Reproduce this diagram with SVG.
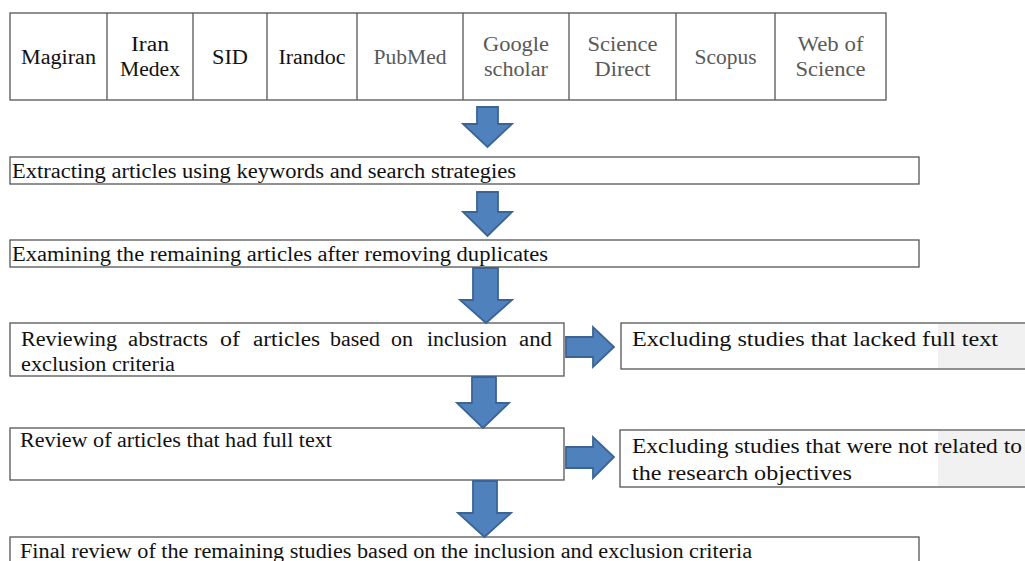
<svg xmlns="http://www.w3.org/2000/svg" width="1025" height="561" viewBox="0 0 1025 561">
<style>
  .box { fill: #ffffff; stroke: #555555; stroke-width: 1.3; }
  .t { font-size: 20px; fill: #111111; }
  .tb { font-size: 20px; fill: #111111; text-anchor: middle; }
  .g { fill: #595959; }
  .big { font-size: 22px; }
  .arr { fill: #4f81bd; stroke: #3b6494; stroke-width: 1.8; stroke-linejoin: miter; }
</style>
<rect width="1025" height="561" fill="#ffffff"/>

<g font-family="Liberation Serif, Times New Roman, DejaVu Serif, serif">
<g id="databases">
  <rect class="box" x="10" y="13" width="876" height="87"/>
  <g stroke="#555555" stroke-width="1.3">
    <line x1="107" y1="13" x2="107" y2="100"/>
    <line x1="193" y1="13" x2="193" y2="100"/>
    <line x1="267" y1="13" x2="267" y2="100"/>
    <line x1="357" y1="13" x2="357" y2="100"/>
    <line x1="463" y1="13" x2="463" y2="100"/>
    <line x1="569" y1="13" x2="569" y2="100"/>
    <line x1="676" y1="13" x2="676" y2="100"/>
    <line x1="775" y1="13" x2="775" y2="100"/>
  </g>
  <text class="tb" x="58.5" y="64" textLength="75" lengthAdjust="spacingAndGlyphs">Magiran</text>
  <text class="tb" x="150" y="51" textLength="38" lengthAdjust="spacingAndGlyphs">Iran</text>
  <text class="tb" x="150" y="76" textLength="60" lengthAdjust="spacingAndGlyphs">Medex</text>
  <text class="tb" x="230" y="64" textLength="36" lengthAdjust="spacingAndGlyphs">SID</text>
  <text class="tb" x="312" y="64" textLength="67" lengthAdjust="spacingAndGlyphs">Irandoc</text>
  <text class="tb g" x="410" y="64" textLength="73" lengthAdjust="spacingAndGlyphs">PubMed</text>
  <text class="tb g" x="516" y="51" textLength="66" lengthAdjust="spacingAndGlyphs">Google</text>
  <text class="tb g" x="516" y="76" textLength="64" lengthAdjust="spacingAndGlyphs">scholar</text>
  <text class="tb g" x="622.5" y="51" textLength="70" lengthAdjust="spacingAndGlyphs">Science</text>
  <text class="tb g" x="622.5" y="76" textLength="56" lengthAdjust="spacingAndGlyphs">Direct</text>
  <text class="tb g" x="725.5" y="64" textLength="62" lengthAdjust="spacingAndGlyphs">Scopus</text>
  <text class="tb g" x="830.5" y="51" textLength="66" lengthAdjust="spacingAndGlyphs">Web of</text>
  <text class="tb g" x="830.5" y="76" textLength="70" lengthAdjust="spacingAndGlyphs">Science</text>
</g>

<g id="extracting">
  <rect class="box" x="10" y="157" width="909" height="27"/>
  <text class="t" x="12" y="178" textLength="504" lengthAdjust="spacingAndGlyphs">Extracting articles using keywords and search strategies</text>
</g>

<g id="examining">
  <rect class="box" x="10" y="240" width="909" height="27"/>
  <text class="t" x="12" y="261" textLength="536" lengthAdjust="spacingAndGlyphs">Examining the remaining articles after removing duplicates</text>
</g>

<g id="reviewing-abstracts">
  <rect class="box" x="10" y="323" width="554" height="53"/>
  <text class="t" y="346">
    <tspan x="21" textLength="96" lengthAdjust="spacingAndGlyphs">Reviewing</tspan>
    <tspan x="128" textLength="80" lengthAdjust="spacingAndGlyphs">abstracts</tspan>
    <tspan x="220" textLength="20" lengthAdjust="spacingAndGlyphs">of</tspan>
    <tspan x="253" textLength="67" lengthAdjust="spacingAndGlyphs">articles</tspan>
    <tspan x="330" textLength="50" lengthAdjust="spacingAndGlyphs">based</tspan>
    <tspan x="391" textLength="22" lengthAdjust="spacingAndGlyphs">on</tspan>
    <tspan x="427" textLength="80" lengthAdjust="spacingAndGlyphs">inclusion</tspan>
    <tspan x="519" textLength="33" lengthAdjust="spacingAndGlyphs">and</tspan>
  </text>
  <text class="t" x="21" y="371" textLength="154" lengthAdjust="spacingAndGlyphs">exclusion criteria</text>
</g>

<g id="excluding-no-fulltext">
  <rect class="box" x="621" y="323" width="420" height="46"/>
  <rect x="938" y="324" width="87" height="44" fill="#f1f1f1"/>
  <text class="t big" x="632" y="346" textLength="366" lengthAdjust="spacingAndGlyphs">Excluding studies that lacked full text</text>
</g>

<g id="review-fulltext">
  <rect class="box" x="10" y="428" width="554" height="52"/>
  <text class="t" x="20" y="447" textLength="312" lengthAdjust="spacingAndGlyphs">Review of articles that had full text</text>
</g>

<g id="excluding-not-related">
  <rect class="box" x="620" y="430" width="420" height="57"/>
  <rect x="938" y="431" width="87" height="55" fill="#f1f1f1"/>
  <text class="t big" x="632" y="453" textLength="390" lengthAdjust="spacingAndGlyphs">Excluding studies that were not related to</text>
  <text class="t big" x="632" y="480" textLength="220" lengthAdjust="spacingAndGlyphs">the research objectives</text>
</g>

<g id="final-review">
  <rect class="box" x="10" y="537" width="909" height="40"/>
  <text class="t" x="20" y="558" textLength="732" lengthAdjust="spacingAndGlyphs">Final review of the remaining studies based on the inclusion and exclusion criteria</text>
</g>
</g>

<g id="connectors">
  <polygon class="arr" points="477,107 498,107 498,124 512,124 487.5,147 463,124 477,124"/>
  <polygon class="arr" points="477,192 498,192 498,212 512,212 487.5,236 463,212 477,212"/>
  <polygon class="arr" points="473,268 498,268 498,300 512,300 486,323 460,300 473,300"/>
  <polygon class="arr" points="472,377 496,377 496,403 509,403 483,428 457,403 472,403"/>
  <polygon class="arr" points="473,481 497,481 497,513 511,513 484.5,537 458,513 473,513"/>
  <polygon class="arr" points="566,337 593,337 593,327 614,347 593,367 593,357 566,357"/>
  <polygon class="arr" points="566,447 593,447 593,437 614,457 593,478 593,468 566,468"/>
</g>
</svg>
